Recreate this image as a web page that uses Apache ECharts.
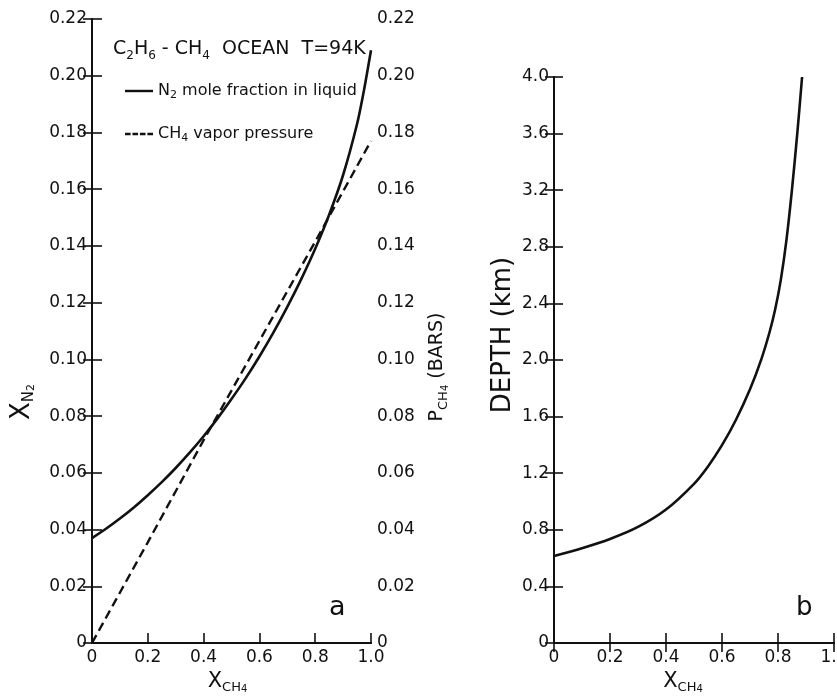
<!DOCTYPE html>
<html>
<head>
<meta charset="utf-8">
<script src="https://cdn.jsdelivr.net/npm/echarts@6/dist/echarts.min.js"></script>
<style>
html,body{margin:0;padding:0;background:#fff;}
#chart{width:837px;height:700px;}
</style>
</head>
<body>
<div id="chart"></div>
<script>
// ---- data ----
// panel a: N2 mole fraction in liquid vs X_CH4
const xch4A = [0, 0.05, 0.1, 0.15, 0.2, 0.25, 0.3, 0.35, 0.4, 0.45, 0.5, 0.55, 0.6, 0.65, 0.7, 0.75, 0.8, 0.85, 0.9, 0.95, 0.975, 1.0];
const xn2   = [0.037, 0.0403, 0.0439, 0.0478, 0.0521, 0.0567, 0.0617, 0.0671, 0.0729, 0.0792, 0.086, 0.0932, 0.101, 0.1094, 0.1185, 0.1283, 0.139, 0.151, 0.165, 0.183, 0.195, 0.209];
// panel a: CH4 vapor pressure (bars) vs X_CH4
const xch4P = [0, 0.2, 0.4, 0.6, 0.8, 1.0];
const pch4  = [0, 0.0355, 0.0715, 0.1065, 0.1415, 0.177];
// panel b: depth (km) vs X_CH4
const xch4B = [0, 0.1, 0.2, 0.3, 0.4, 0.5, 0.55, 0.6, 0.65, 0.7, 0.74, 0.77, 0.79, 0.81, 0.83, 0.85, 0.87, 0.886];
const depth = [0.615, 0.67, 0.735, 0.82, 0.943, 1.125, 1.248, 1.398, 1.578, 1.793, 2.003, 2.198, 2.358, 2.566, 2.846, 3.206, 3.626, 4.0];

const seriesNames = ['N₂ mole fraction in liquid', 'CH₄ vapor pressure'];
const legendRich = {
  'N₂ mole fraction in liquid': '{m|N}{s|2}{m| mole fraction in liquid}',
  'CH₄ vapor pressure': '{m|CH}{s|4}{m| vapor pressure}'
};

const FONT = 'DejaVu Sans';
const INK = '#111';

function pairs(xs, ys){ return xs.map((x,i)=>[x, ys[i]]); }

const axisLine = {show:true, lineStyle:{color:INK, width:2}};
const tickIn = (len)=>({show:true, inside:true, length:len, lineStyle:{color:INK, width:1.6}});
const lbl = (fmt, margin)=>({color:INK, fontFamily:FONT, fontSize:17, margin:margin, formatter:fmt});
const fmt1 = v => (Math.abs(v) < 1e-9 ? '0' : v.toFixed(1));
const fmt2 = v => (Math.abs(v) < 1e-9 ? '0' : v.toFixed(2));

const subRich = (big, small, lh) => ({
  m: {fontFamily:FONT, fontSize:big, fontWeight:'normal', color:INK, lineHeight:lh},
  s: {fontFamily:FONT, fontSize:small, fontWeight:'normal', color:INK, lineHeight:Math.round(small*1.1), verticalAlign:'bottom'}
});
const nameRich = (big, small, tiny, lh) => ({
  m: {fontFamily:FONT, fontSize:big, color:INK, lineHeight:lh},
  x: {fontFamily:FONT, fontSize:big, color:INK, lineHeight:lh},
  s: {fontFamily:FONT, fontSize:small, color:INK, lineHeight:Math.round(lh*0.72), verticalAlign:'bottom'},
  ss: {fontFamily:FONT, fontSize:tiny, color:INK, lineHeight:Math.round(lh*0.45), verticalAlign:'bottom'}
});

const solidIcon = 'path://M0,0H30V2.6H0Z';
const dashIcon = 'path://M0,0H6V2.6H0Z M8,0H14V2.6H8Z M16,0H22V2.6H16Z M24,0H30V2.6H24Z';

const chart = echarts.init(document.getElementById('chart'), null, {renderer:'canvas'});

const option = {
  backgroundColor: '#fff',
  animation: false,
  title: {
    left: 108, top: 31,
    text: '{m|C}{s|2}{m|H}{s|6}{m| - CH}{s|4}{m|  OCEAN  T=94K}',
    textStyle: {fontWeight:'normal', rich: subRich(19, 12, 26)}
  },
  legend: {
    orient: 'vertical',
    left: 120, top: 78,
    itemWidth: 28, itemHeight: 2.6, itemGap: 25,
    selectedMode: false,
    data: [{name: seriesNames[0], icon: solidIcon}, {name: seriesNames[1], icon: dashIcon}],
    formatter: name => legendRich[name],
    textStyle: {rich: subRich(16, 11, 20)}
  },
  grid: [
    {left: 92, top: 19, width: 279, height: 624, containLabel: false, outerBoundsMode: 'none'},
    {left: 554, top: 77, width: 280, height: 566, containLabel: false, outerBoundsMode: 'none'}
  ],
  xAxis: [
    {type:'value', gridIndex:0, position:'bottom', min:0, max:1, interval:0.2,
     axisLine:axisLine, axisTick:tickIn(10), splitLine:{show:false},
     axisLabel:lbl(fmt1, 6),
     name:'{x|X}{s|CH}{ss|4}', nameLocation:'middle', nameGap:27,
     nameTextStyle:{padding:[0,8,0,0], rich:nameRich(21, 13, 10, 24)}},
    {type:'value', gridIndex:0, position:'top', min:0, max:1, interval:0.2,
     axisLine:axisLine, axisTick:{show:false}, axisLabel:{show:false}, splitLine:{show:false}},
    {type:'value', gridIndex:1, position:'bottom', min:0, max:1, interval:0.2,
     axisLine:axisLine, axisTick:tickIn(10), splitLine:{show:false},
     axisLabel:lbl(fmt1, 6),
     name:'{x|X}{s|CH}{ss|4}', nameLocation:'middle', nameGap:27,
     nameTextStyle:{padding:[0,22,0,0], rich:nameRich(21, 13, 10, 24)}},
    {type:'value', gridIndex:1, position:'top', min:0, max:1, interval:0.2,
     axisLine:axisLine, axisTick:tickIn(9), axisLabel:{show:false}, splitLine:{show:false}}
  ],
  yAxis: [
    {type:'value', gridIndex:0, position:'left', min:0, max:0.22, interval:0.02,
     axisLine:axisLine, axisTick:tickIn(10), splitLine:{show:false},
     axisLabel:lbl(fmt2, 5),
     name:'{x|X}{s|N}{ss|2}', nameLocation:'middle', nameRotate:90, nameGap:55,
     nameTextStyle:{padding:[0,142,0,0], rich:nameRich(26, 15, 11, 30)}},
    {type:'value', gridIndex:0, position:'right', min:0, max:0.22, interval:0.02,
     axisLine:axisLine, axisTick:tickIn(9), splitLine:{show:false},
     axisLabel:lbl(fmt2, 6),
     name:'{m|P}{s|CH}{ss|4}{m| (BARS)}', nameLocation:'middle', nameRotate:90, nameGap:53,
     nameTextStyle:{padding:[0,72,0,0], rich:nameRich(19, 13, 10, 26)}},
    {type:'value', gridIndex:1, position:'left', min:0, max:4, interval:0.4,
     axisLine:axisLine, axisTick:tickIn(9), splitLine:{show:false},
     axisLabel:lbl(fmt1, 5),
     name:'DEPTH (km)', nameLocation:'middle', nameRotate:90, nameGap:36,
     nameTextStyle:{fontFamily:FONT, fontSize:26, color:INK, lineHeight:30, padding:[0,0,0,50]}},
    {type:'value', gridIndex:1, position:'right', min:0, max:4, interval:0.4,
     axisLine:axisLine, axisTick:tickIn(9), axisLabel:{show:false}, splitLine:{show:false}}
  ],
  series: [
    {name: seriesNames[0], type:'line', xAxisIndex:0, yAxisIndex:0,
     data: pairs(xch4A, xn2), symbol:'none', smooth:0.25,
     lineStyle:{color:INK, width:2.6}, itemStyle:{color:INK}},
    {name: seriesNames[1], type:'line', xAxisIndex:0, yAxisIndex:1,
     data: pairs(xch4P, pch4), symbol:'none', smooth:false,
     lineStyle:{color:INK, width:2.4, type:[9,5]}, itemStyle:{color:INK}},
    {name: 'Depth', type:'line', xAxisIndex:2, yAxisIndex:2,
     data: pairs(xch4B, depth), symbol:'none', smooth:0.3,
     lineStyle:{color:INK, width:2.6}, itemStyle:{color:INK}}
  ],
  graphic: [
    {type:'text', x:329, y:608, style:{text:'a', fontFamily:FONT, fontSize:27, fill:INK, verticalAlign:'middle'}},
    {type:'text', x:796, y:608, style:{text:'b', fontFamily:FONT, fontSize:26, fill:INK, verticalAlign:'middle'}}
  ]
};
chart.setOption(option);
</script>
</body>
</html>
